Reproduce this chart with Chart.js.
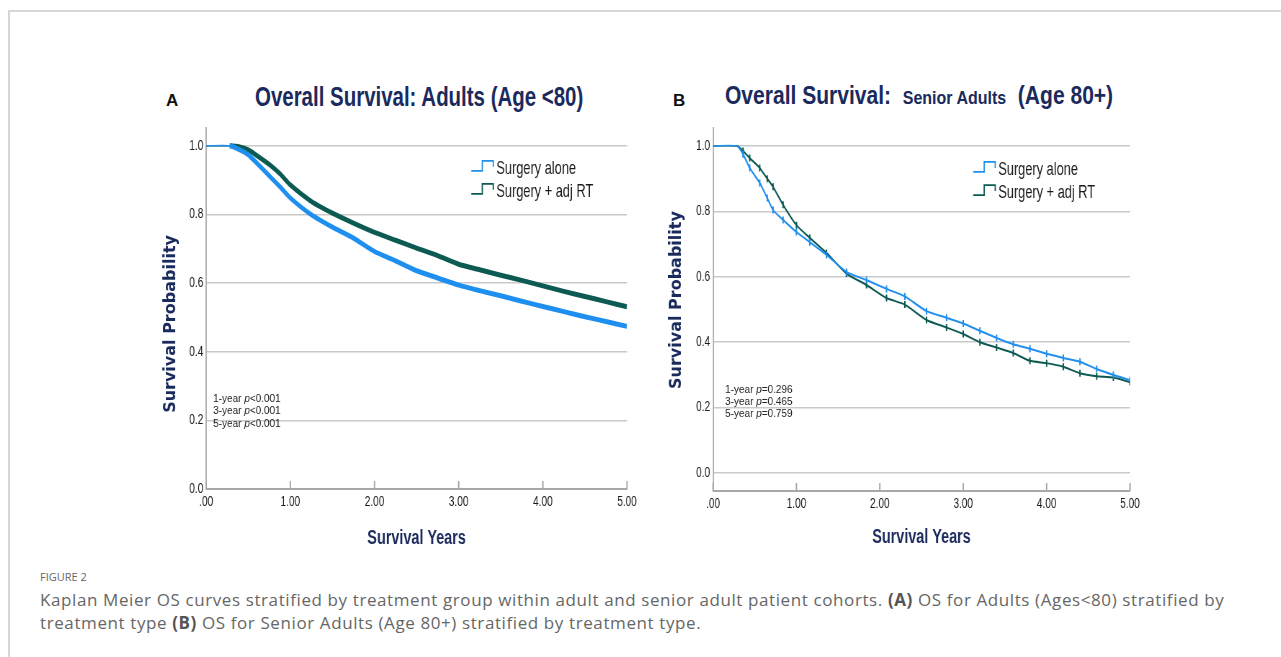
<!DOCTYPE html>
<html>
<head>
<meta charset="utf-8">
<script src="https://cdn.jsdelivr.net/npm/chart.js@4.4.1/dist/chart.umd.min.js"></script>
<style>
  html, body { margin: 0; padding: 0; background: #fff; }
  body { width: 1281px; height: 657px; position: relative; overflow: hidden; }
  .frame { position: absolute; left: 8px; top: 10px; right: -4px; bottom: -4px;
           border-top: 2px solid #d6d6d6; border-left: 2px solid #d6d6d6; }
  .ttl { position: absolute; white-space: nowrap; transform-origin: 0 0; line-height: 1;
         font-family: "Liberation Sans", Arial, sans-serif;
         font-weight: bold; color: #1b2a5c; }
  .panel { position: absolute; font-family: "Liberation Sans", Arial, sans-serif;
           font-weight: bold; font-size: 17px; line-height: 1; color: #111; }
  /* the SPSS output in the figure is squeezed horizontally */
  canvas { position: absolute; transform-origin: 0 0; transform: scaleX(0.72); }
  .fig { position: absolute; left: 40px; top: 570px; font-family: "Open Sans", sans-serif;
         font-size: 11px; line-height: 14px; color: #666; }
  .cap { position: absolute; left: 40px; top: 588px; font-family: "Open Sans", sans-serif;
         font-size: 17px; letter-spacing: 0.6px; line-height: 23px; color: #666; white-space: nowrap; }
  .cap b { color: #555; }
</style>
</head>
<body>
<div class="frame"></div>

<div class="panel" style="left:166px; top:92px;">A</div>
<div class="panel" style="left:673px; top:92px;">B</div>

<div class="ttl" data-w="328" style="left:255px; top:84px; font-size:27px;">Overall Survival: Adults (Age &lt;80)</div>
<div class="ttl" data-w="388" style="left:725px; top:83px; font-size:25px;">Overall Survival:&nbsp; <span style="font-size:19px;">Senior Adults</span>&nbsp; (Age 80+)</div>

<canvas id="chartA" width="695" height="450" style="left:150px; top:110px;"></canvas>
<canvas id="chartB" width="709" height="450" style="left:650px; top:110px;"></canvas>

<div class="fig">FIGURE 2</div>
<div class="cap">Kaplan Meier OS curves stratified by treatment group within adult and senior adult patient cohorts. <b>(A)</b> OS for Adults (Ages&lt;80) stratified by<br>treatment type <b>(B)</b> OS for Senior Adults (Age 80+) stratified by treatment type.</div>

<script>
// ---- data ----
const seriesLabels = ['Surgery alone', 'Surgery + adj RT'];
const yTicks = [0, 0.2, 0.4, 0.6, 0.8, 1.0];
const xTicks = [0, 1, 2, 3, 4, 5];

// Panel A: adults (age < 80)
const adultYears = [0, 0.28, 0.4, 0.5, 0.6, 0.76, 0.88, 1.0, 1.25, 1.5, 1.75, 2.0, 2.25, 2.5,
                    2.75, 3.0, 3.25, 3.5, 3.75, 4.0, 4.25, 4.5, 4.75, 5.0];
const adultAlone = [1, 1, 0.988, 0.974, 0.95, 0.91, 0.88, 0.848, 0.799, 0.763, 0.731, 0.692, 0.665, 0.636,
                    0.615, 0.594, 0.578, 0.563, 0.547, 0.532, 0.517, 0.502, 0.488, 0.474];
const adultRT    = [1, 1, 0.997, 0.988, 0.972, 0.944, 0.918, 0.886, 0.838, 0.804, 0.775, 0.748, 0.725, 0.702,
                    0.68, 0.655, 0.639, 0.623, 0.608, 0.592, 0.576, 0.561, 0.546, 0.531];

// Panel B: senior adults (age 80+)
const seniorYears = [0, 0.29, 0.36, 0.44, 0.56, 0.65, 0.72, 0.84, 1.0, 1.16, 1.36, 1.6, 1.84, 2.08,
                     2.3, 2.56, 2.8, 3.0, 3.2, 3.4, 3.6, 3.8, 4.0, 4.2, 4.4, 4.6, 4.8, 5.0];
const seniorAlone = [1, 1, 0.975, 0.933, 0.887, 0.841, 0.804, 0.774, 0.737, 0.706, 0.667, 0.615, 0.59, 0.563,
                     0.54, 0.495, 0.475, 0.457, 0.435, 0.413, 0.394, 0.38, 0.365, 0.352, 0.34, 0.318, 0.3, 0.284];
const seniorRT    = [1, 1, 0.985, 0.963, 0.933, 0.9, 0.875, 0.82, 0.758, 0.719, 0.673, 0.61, 0.575, 0.535,
                     0.515, 0.468, 0.445, 0.425, 0.4, 0.384, 0.367, 0.343, 0.336, 0.325, 0.305, 0.296, 0.292, 0.278];

const adultPvals  = ['<0.001', '<0.001', '<0.001'];
const seniorPvals = ['=0.296', '=0.465', '=0.759'];
const pYears = ['1-year ', '3-year ', '5-year '];

const SQUISH = 0.72;
const BLUE = '#1f8fef';
const GREEN = '#0c5a52';
const NAVY = '#1b2a5c';
const SANS = '"Liberation Sans", Arial, sans-serif';

function pts(xs, ys) { return xs.map((x, i) => ({ x: x, y: ys[i] })); }

// scale the titles to the width they take in the figure
document.querySelectorAll('.ttl').forEach(el => {
  const w = +el.dataset.w;
  el.style.transform = 'scaleX(' + (w / el.offsetWidth) + ')';
});

const kmExtras = {
  id: 'kmExtras',
  afterDraw(chart, args, opts) {
    const ctx = chart.ctx;
    const xs = chart.scales.x, ys = chart.scales.y;
    const u = 1 / SQUISH; // visible px -> canvas px horizontally
    ctx.save();

    // inward tick marks on the time axis
    ctx.strokeStyle = '#a8a8a8';
    ctx.lineWidth = 2;
    xs.ticks.forEach(t => {
      const px = xs.getPixelForValue(t.value);
      ctx.beginPath();
      ctx.moveTo(px, xs.top);
      ctx.lineTo(px, xs.top - 8);
      ctx.stroke();
    });

    // y axis title (not squeezed in the figure)
    ctx.save();
    ctx.translate(chart.chartArea.left - opts.yTitle.dx * u, ys.getPixelForValue(opts.yTitle.y));
    ctx.scale(u, 1);
    ctx.rotate(-Math.PI / 2);
    ctx.font = 'bold 16px "DejaVu Sans", sans-serif';
    ctx.fillStyle = NAVY;
    ctx.textAlign = 'center';
    ctx.textBaseline = 'middle';
    ctx.fillText('Survival Probability', 0, 0);
    ctx.restore();

    // legend with step icons
    chart.data.datasets.forEach((ds, i) => {
      const x0 = xs.getPixelForValue(opts.legend.x);
      const y0 = ys.getPixelForValue(opts.legend.y[i]);
      ctx.strokeStyle = ds.borderColor;
      ctx.lineWidth = 1.8;
      ctx.beginPath();
      ctx.moveTo(x0, y0 + 3);
      ctx.lineTo(x0 + 11 * u, y0 + 3);
      ctx.lineTo(x0 + 11 * u, y0 - 7);
      ctx.lineTo(x0 + 22 * u, y0 - 7);
      ctx.lineTo(x0 + 22 * u, y0 - 1);
      ctx.stroke();
      ctx.fillStyle = '#1a1a1a';
      ctx.font = '17.8px ' + SANS;
      ctx.textAlign = 'left';
      ctx.textBaseline = 'middle';
      ctx.fillText(ds.label, x0 + 25 * u, y0 + 1);
    });

    // p values (plain width in the figure)
    ctx.fillStyle = '#222';
    ctx.textBaseline = 'middle';
    ctx.textAlign = 'left';
    opts.pvals.forEach((pv, i) => {
      ctx.save();
      ctx.translate(xs.getPixelForValue(opts.pText.x), ys.getPixelForValue(opts.pText.y[i]));
      ctx.scale(u, 1);
      let x = 0;
      ctx.font = '10px ' + SANS;
      ctx.fillText(pYears[i], x, 0);
      x += ctx.measureText(pYears[i]).width;
      ctx.font = 'italic 10px ' + SANS;
      ctx.fillText('p', x, 0);
      x += ctx.measureText('p').width;
      ctx.font = '10px ' + SANS;
      ctx.fillText(pv, x, 0);
      ctx.restore();
    });
    ctx.restore();
  }
};

function makeDataset(label, data, color, cfg) {
  return {
    label: label,
    data: data,
    borderColor: color,
    backgroundColor: color,
    borderWidth: cfg.lineWidth,
    segment: { borderWidth: c => c.p0DataIndex === 0 ? 1.5 : cfg.lineWidth },
    pointStyle: 'line',
    rotation: 90,
    pointRadius: c => (cfg.censor && c.dataIndex > 1) ? 3.5 : 0,
    pointBorderWidth: 2,
    pointBorderColor: color,
    tension: 0.2,
    fill: false
  };
}

function makeChart(id, cfg) {
  return new Chart(document.getElementById(id), {
    type: 'line',
    data: {
      datasets: [
        makeDataset(seriesLabels[0], pts(cfg.years, cfg.alone), BLUE, cfg),
        makeDataset(seriesLabels[1], pts(cfg.years, cfg.rt), GREEN, cfg)
      ]
    },
    options: {
      responsive: false,
      animation: false,
      devicePixelRatio: 1,
      layout: { padding: { top: 18, right: cfg.padRight, bottom: 0, left: 0 } },
      plugins: {
        legend: { display: false },
        tooltip: { enabled: false },
        kmExtras: { legend: cfg.legend, pText: cfg.pText, pvals: cfg.pvals, yTitle: cfg.yTitle }
      },
      scales: {
        x: {
          type: 'linear',
          min: 0,
          max: 5,
          afterBuildTicks: s => { s.ticks = xTicks.map(v => ({ value: v })); },
          afterFit: s => { s.height = cfg.xHeight; },
          grid: { drawOnChartArea: false, drawTicks: false },
          border: { color: '#a8a8a8', width: 2 },
          ticks: {
            padding: 5,
            color: '#1a1a1a',
            font: { family: SANS, size: 14 },
            callback: v => v === 0 ? '.00' : v.toFixed(2)
          },
          title: {
            display: true,
            text: 'Survival Years',
            color: NAVY,
            font: { family: SANS, size: 20, weight: 'bold' },
            padding: { top: 0, bottom: cfg.xTitlePad }
          }
        },
        y: {
          min: cfg.yMin,
          max: cfg.yMax,
          afterBuildTicks: s => { s.ticks = yTicks.map(v => ({ value: v })); },
          afterFit: s => { s.width = cfg.yWidth; },
          grid: { color: '#c9c9c9', lineWidth: 1.5, drawTicks: false },
          border: { color: '#b0b0b0', width: 2 },
          ticks: {
            padding: 4,
            color: '#1a1a1a',
            font: { family: SANS, size: 14 },
            callback: v => v.toFixed(1)
          }
        }
      }
    },
    plugins: [kmExtras]
  });
}

makeChart('chartA', {
  years: adultYears, alone: adultAlone, rt: adultRT,
  lineWidth: 5, censor: false,
  yMin: 0, yMax: 1.052,
  yWidth: 78, xHeight: 71, padRight: 32.5, xTitlePad: 10,
  legend: { x: 3.15, y: [0.936, 0.869] },
  pText: { x: 0.083, y: [0.262, 0.227, 0.19] },
  pvals: adultPvals,
  yTitle: { dx: 35, y: 0.481 }
});

makeChart('chartB', {
  years: seniorYears, alone: seniorAlone, rt: seniorRT,
  lineWidth: 2, censor: true,
  yMin: -0.055, yMax: 1.055,
  yWidth: 87.5, xHeight: 69, padRight: 42.3, xTitlePad: 11,
  legend: { x: 3.12, y: [0.93, 0.859] },
  pText: { x: 0.144, y: [0.254, 0.217, 0.18] },
  pvals: seniorPvals,
  yTitle: { dx: 36, y: 0.529 }
});
</script>
</body>
</html>
